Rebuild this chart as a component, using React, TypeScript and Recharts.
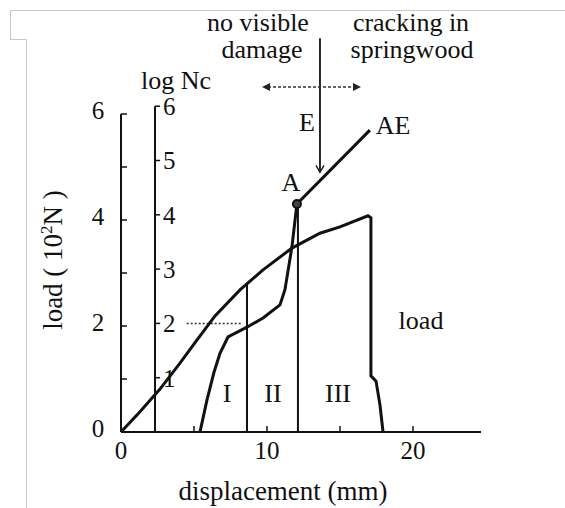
import React from 'react';
import { LineChart, Line, XAxis, YAxis, ReferenceLine, ReferenceDot } from 'recharts';

// load curve (10^2 N) vs displacement (mm)
const loadDisp = [0, 1.3, 2.67, 4.04, 5.21, 6.44, 8.15, 9.73, 11.71, 13.63, 15.0, 16.92, 17.12, 17.12, 17.47, 17.74, 17.95];
const loadVal = [0, 0.38, 0.81, 1.3, 1.74, 2.19, 2.68, 3.06, 3.47, 3.75, 3.87, 4.08, 4.04, 1.06, 0.96, 0.51, 0];

// cumulative AE counts (log Nc) vs displacement
const aeDisp = [5.41, 5.89, 6.37, 6.78, 7.33, 8.63, 9.73, 10.89, 11.23, 11.71, 12.05, 17.05];
const aeLogNc = [0, 0.59, 1.1, 1.45, 1.75, 1.93, 2.1, 2.34, 2.62, 3.41, 4.2, 5.56];

const xTicks = [0, 5, 10, 15, 20];
const loadTicks = [0, 1, 2, 3, 4, 5, 6];
const ncTicks = [1, 2, 3, 4, 5, 6];

// stage boundaries / annotations
const stageOneEnd = 8.63;
const pointA = { x: 12.05, y: 4.2 };
const ncAxisX = 2.33;
const eLineX = 13.63;

const loadData = loadDisp.map((x, i) => ({ x, y: loadVal[i] }));
const aeData = aeDisp.map((x, i) => ({ x, y: aeLogNc[i] }));

const FONT = '"Liberation Serif", "Times New Roman", serif';

const XTick = (props: any) => {
  const { x, y, payload } = props;
  return (
    <g>
      <line x1={x} y1={y} x2={x} y2={y - 6} stroke="#111" strokeWidth={1.5} />
      {payload.value % 10 === 0 && (
        <text x={x} y={y + 27} textAnchor="middle" fontSize={25} fontFamily={FONT} fill="#111">
          {payload.value}
        </text>
      )}
    </g>
  );
};

const LoadTick = (props: any) => {
  const { x, y, payload } = props;
  return (
    <g>
      {payload.value > 0 && <line x1={x} y1={y} x2={x + 6} y2={y} stroke="#111" strokeWidth={1.5} />}
      {payload.value % 2 === 0 && (
        <text x={x - 23} y={y} dy={5} textAnchor="middle" fontSize={25} fontFamily={FONT} fill="#111">
          {payload.value}
        </text>
      )}
    </g>
  );
};

const Txt = ({ x, y, children, size = 26 }: { x: number; y: number; children: React.ReactNode; size?: number }) => (
  <div
    style={{
      position: 'absolute',
      left: x,
      top: y,
      transform: 'translate(-50%, -50%)',
      fontFamily: FONT,
      fontSize: size,
      lineHeight: 1,
      color: '#111',
      whiteSpace: 'nowrap',
    }}
  >
    {children}
  </div>
);

const arrowLeft = (p: any) => (
  <polygon points={`${p.cx - 6},${p.cy} ${p.cx + 2},${p.cy - 4} ${p.cx + 2},${p.cy + 4}`} fill="#222" />
);
const arrowRight = (p: any) => (
  <polygon points={`${p.cx + 6},${p.cy} ${p.cx - 2},${p.cy - 4} ${p.cx - 2},${p.cy + 4}`} fill="#222" />
);
const arrowDown = (p: any) => (
  <path d={`M${p.cx - 4},${p.cy - 7} L${p.cx},${p.cy} L${p.cx + 4},${p.cy - 7}`} stroke="#222" strokeWidth={1.5} fill="none" />
);

export default function App() {
  return (
    <div style={{ position: 'absolute', left: 0, top: 0, width: 565, height: 508, background: '#fff', overflow: 'hidden' }}>
      {/* scan frame */}
      <div style={{ position: 'absolute', left: 10, top: 10, width: 555, height: 29, borderTop: '1px solid #c8c8c8', borderLeft: '1px solid #c8c8c8' }} />
      <div style={{ position: 'absolute', left: 10, top: 39, width: 16, borderTop: '1px solid #c8c8c8' }} />
      <div style={{ position: 'absolute', left: 26, top: 39, height: 469, borderLeft: '1px solid #c8c8c8' }} />

      <LineChart width={565} height={508} margin={{ top: 38, right: 84, bottom: 46, left: 0 }}>
        <XAxis
          type="number"
          dataKey="x"
          domain={[0, 24.66]}
          ticks={xTicks}
          allowDataOverflow
          height={30}
          tickSize={0}
          tickMargin={0}
          tickLine={false}
          axisLine={{ stroke: '#111', strokeWidth: 2 }}
          tick={<XTick />}
        />
        <YAxis
          yAxisId="load"
          type="number"
          domain={[0, 7.434]}
          ticks={loadTicks}
          allowDataOverflow
          width={121}
          tickSize={0}
          tickMargin={0}
          tickLine={false}
          axisLine={false}
          tick={<LoadTick />}
        />
        <YAxis yAxisId="nc" type="number" domain={[0, 7.256]} allowDataOverflow hide width={0} />

        {/* left load axis line */}
        <ReferenceLine yAxisId="load" segment={[{ x: 0, y: 0 }, { x: 0, y: 6 }]} stroke="#111" strokeWidth={2} />

        {/* log Nc axis */}
        <ReferenceLine yAxisId="nc" segment={[{ x: ncAxisX, y: 0 }, { x: ncAxisX, y: 6 }]} stroke="#111" strokeWidth={2} />
        {ncTicks.map((t) => (
          <ReferenceLine
            key={t}
            yAxisId="nc"
            segment={[{ x: ncAxisX, y: t }, { x: ncAxisX + 0.35, y: t }]}
            stroke="#111"
            strokeWidth={1.5}
            label={{ value: String(t), position: 'right', offset: 3, fontSize: 25, fontFamily: FONT, fill: '#111' }}
          />
        ))}

        {/* dotted line at log Nc = 2 */}
        <ReferenceLine yAxisId="nc" segment={[{ x: 4.5, y: 2 }, { x: 8.2, y: 2 }]} stroke="#333" strokeWidth={1.5} strokeDasharray="2 2" />

        {/* stage boundaries */}
        <ReferenceLine yAxisId="load" segment={[{ x: stageOneEnd, y: 0 }, { x: stageOneEnd, y: 2.81 }]} stroke="#111" strokeWidth={2} />
        <ReferenceLine yAxisId="nc" segment={[{ x: 12.12, y: 0 }, { x: 12.12, y: pointA.y }]} stroke="#111" strokeWidth={2} />

        {/* E line with arrow */}
        <ReferenceLine yAxisId="load" segment={[{ x: eLineX, y: 7.43 }, { x: eLineX, y: 4.9 }]} stroke="#111" strokeWidth={1.8} />
        <ReferenceDot yAxisId="load" x={eLineX} y={4.9} r={0} shape={arrowDown} />

        {/* dotted double arrow */}
        <ReferenceLine yAxisId="load" segment={[{ x: 10.07, y: 6.51 }, { x: 16.03, y: 6.51 }]} stroke="#333" strokeWidth={1.5} strokeDasharray="3 2" />
        <ReferenceDot yAxisId="load" x={10.07} y={6.51} r={0} shape={arrowLeft} />
        <ReferenceDot yAxisId="load" x={16.03} y={6.51} r={0} shape={arrowRight} />

        <Line yAxisId="load" data={loadData} dataKey="y" type="linear" stroke="#111" strokeWidth={3} dot={false} isAnimationActive={false} />
        <Line yAxisId="nc" data={aeData} dataKey="y" type="linear" stroke="#111" strokeWidth={3} dot={false} isAnimationActive={false} />
        <ReferenceDot yAxisId="nc" x={pointA.x} y={pointA.y} r={4} fill="#444" stroke="#111" strokeWidth={2} />
      </LineChart>

      <Txt x={258} y={23}>no visible</Txt>
      <Txt x={262} y={50}>damage</Txt>
      <Txt x={411} y={23}>cracking in</Txt>
      <Txt x={412} y={50}>springwood</Txt>
      <Txt x={176} y={81}>log Nc</Txt>
      <Txt x={307} y={123}>E</Txt>
      <Txt x={291} y={183}>A</Txt>
      <Txt x={393} y={126}>AE</Txt>
      <Txt x={421} y={321}>load</Txt>
      <Txt x={227} y={394}>I</Txt>
      <Txt x={273} y={394}>II</Txt>
      <Txt x={338} y={394}>III</Txt>
      <Txt x={283} y={491} size={27}>displacement (mm)</Txt>
      <div
        style={{
          position: 'absolute',
          left: 52,
          top: 260,
          transform: 'translate(-50%, -50%) rotate(-90deg)',
          fontFamily: FONT,
          fontSize: 27,
          lineHeight: 1,
          color: '#111',
          whiteSpace: 'nowrap',
        }}
      >
        load ( 10<sup style={{ fontSize: 17 }}>2</sup>N )
      </div>
    </div>
  );
}
